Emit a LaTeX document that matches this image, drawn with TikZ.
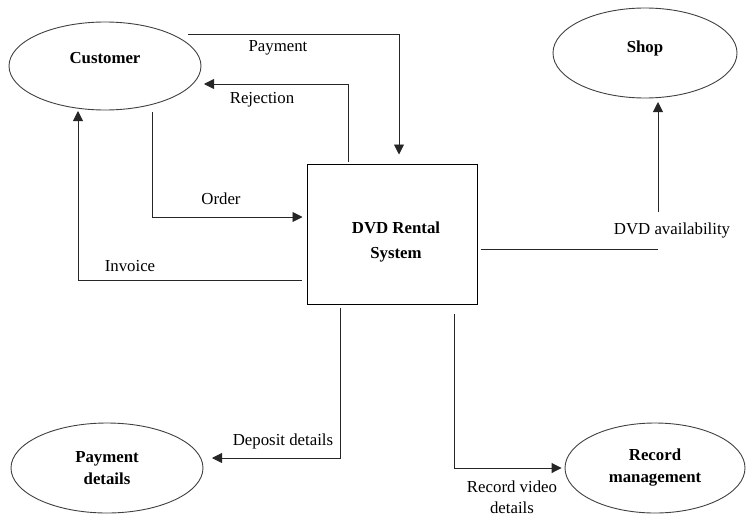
\documentclass[tikz,border=0pt]{standalone}
\usepackage{fontspec}
\setmainfont{Liberation Serif}
\usetikzlibrary{shapes.geometric,arrows.meta}
\begin{document}
\begin{tikzpicture}[x=1pt,y=-1pt,
  txt/.style={font=\fontsize{16.8}{22}\selectfont, inner sep=0pt},
  ent/.style={ellipse, draw=black!75, line width=0.9pt, inner sep=0pt,
    font=\fontsize{16.8}{22}\selectfont\bfseries},
  sysbox/.style={rectangle, draw=black, line width=1pt,
    minimum width=170pt, minimum height=140pt, inner sep=0pt},
  flow/.style={draw=black!85, line width=0.9pt},
  arr/.style={flow, -{Triangle[length=10pt,width=10pt]}}
]
\useasboundingbox (0,0) rectangle (746,519);

% entities
\node[ent, minimum width=192pt, minimum height=88pt, text depth=16pt] (cust) at (105,66) {Customer};
\node[ent, minimum width=184pt, minimum height=90pt, text depth=13pt] (shop) at (645,53) {Shop};
\node[ent, align=center, minimum width=192pt, minimum height=90pt] (paydet) at (107,468) {Payment\\details};
\node[ent, align=center, minimum width=180pt, minimum height=90pt] (recman) at (655,468) {Record\\management};

% process
\node[sysbox] (sys) at (392,234) {};
\node[txt, font=\fontsize{16.8}{25}\selectfont\bfseries, align=center] (systext) at (396,242) {DVD Rental\\System};

% labels
\node[txt] (lpay) at (278,48) {Payment};
\node[txt] (lrej) at (262,100) {Rejection};
\node[txt] (lord) at (221,199) {Order};
\node[txt] (linv) at (130,266) {Invoice};
\node[txt] (ldvd) at (672,230) {DVD availability};
\node[txt] (ldep) at (283,441) {Deposit details};
\node[txt, font=\fontsize{16.8}{21}\selectfont, align=center] (lrec) at (512,497) {Record video\\details};

% flows
\draw[arr] ([shift={(83,-32)}]cust.center) -| ([shift={(7,-9)}]sys.north);
\draw[arr] ([shift={(-44,-2)}]sys.north) |- ([shift={(99,18)}]cust.center);
\draw[arr] ([shift={(47,46)}]cust.center) |- ([shift={(-4,-17)}]sys.west);
\draw[arr] ([shift={(-5,46)}]sys.west) -| ([shift={(-27,45)}]cust.center);

\coordinate (shopb) at ([shift={(13,49)}]shop.center);
\coordinate (dvs) at ([shift={(3,15)}]sys.east);
\draw[flow] (dvs) -- (dvs -| shopb);
\draw[arr] ([yshift=10pt]ldvd.north -| shopb) -- (shopb);

\draw[arr] ([shift={(-52,3)}]sys.south) |- ([shift={(105,-10)}]paydet.center);
\draw[arr] ([shift={(62,9)}]sys.south) |- ([shift={(-3,0)}]recman.west);
\end{tikzpicture}
\end{document}
